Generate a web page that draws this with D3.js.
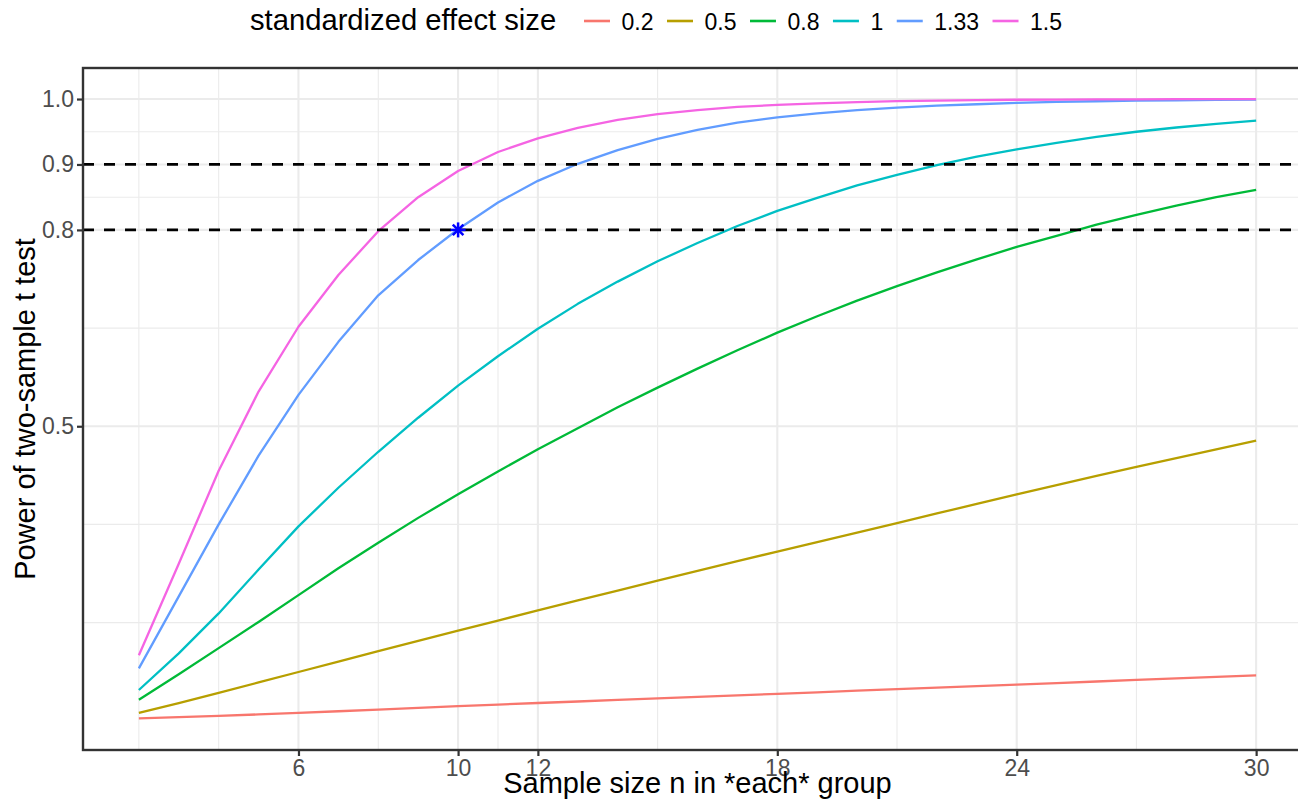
<!DOCTYPE html>
<html>
<head>
<meta charset="utf-8">
<script src="https://cdn.jsdelivr.net/npm/d3@7"></script>
<style>
  body { margin: 0; background: #fff; }
  svg text { font-family: "Liberation Sans", Arial, sans-serif; }
</style>
</head>
<body>
<svg id="chart" width="1298" height="802"></svg>
<script>
// sample size per group
const sampleSizes = [2, 3, 4, 5, 6, 7, 8, 9, 10, 11, 12, 13, 14, 15, 16, 17, 18, 19, 20,
  21, 22, 23, 24, 25, 26, 27, 28, 29, 30];

// effect sizes (legend) and their colours
const effectSizes = ["0.2", "0.5", "0.8", "1", "1.33", "1.5"];
const effectColors = ["#F8766D", "#B79F00", "#00BA38", "#00BFC4", "#619CFF", "#F564E3"];

// power, one array per effect size
const power02 = [0.0535, 0.0555, 0.0575, 0.0597, 0.0620, 0.0645, 0.0670, 0.0697, 0.0724,
  0.0747, 0.0771, 0.0794, 0.0818, 0.0841, 0.0865, 0.0888, 0.0912, 0.0935, 0.0959, 0.0982,
  0.1006, 0.1029, 0.1053, 0.1076, 0.1100, 0.1123, 0.1147, 0.1170, 0.1194];
const power05 = [0.0620, 0.0770, 0.0925, 0.1085, 0.1245, 0.1405, 0.1563, 0.1720, 0.1876,
  0.2031, 0.2185, 0.2338, 0.2490, 0.2641, 0.2790, 0.2938, 0.3085, 0.3230, 0.3375, 0.3520,
  0.3667, 0.3813, 0.3960, 0.4101, 0.4241, 0.4380, 0.4514, 0.4648, 0.4780];
const power08 = [0.082, 0.121, 0.161, 0.201, 0.242, 0.283, 0.322, 0.360, 0.396, 0.431,
  0.465, 0.497, 0.529, 0.559, 0.588, 0.616, 0.643, 0.668, 0.692, 0.714, 0.735, 0.755,
  0.774, 0.791, 0.808, 0.823, 0.837, 0.850, 0.861];
const power10 = [0.097, 0.153, 0.214, 0.281, 0.347, 0.406, 0.461, 0.513, 0.562, 0.607,
  0.649, 0.687, 0.721, 0.752, 0.780, 0.806, 0.829, 0.849, 0.868, 0.884, 0.899, 0.912,
  0.923, 0.933, 0.942, 0.950, 0.9565, 0.962, 0.967];
const power133 = [0.130, 0.240, 0.350, 0.455, 0.548, 0.629, 0.700, 0.754, 0.801, 0.842,
  0.875, 0.901, 0.922, 0.939, 0.953, 0.964, 0.972, 0.978, 0.983, 0.987, 0.990, 0.992,
  0.994, 0.9955, 0.9966, 0.9975, 0.998, 0.9986, 0.999];
const power15 = [0.150, 0.290, 0.432, 0.553, 0.652, 0.731, 0.798, 0.850, 0.890, 0.919,
  0.940, 0.956, 0.968, 0.977, 0.983, 0.988, 0.991, 0.9935, 0.9953, 0.9967, 0.9977, 0.9984,
  0.9989, 0.9992, 0.9995, 0.9996, 0.9997, 0.9998, 0.9999];
const powerSeries = [power02, power05, power08, power10, power133, power15];

// axis breaks
const xBreaks = [6, 10, 12, 18, 24, 30];
const xMinorBreaks = [2, 4, 8, 11, 15, 21, 27];
const yBreaks = [0.5, 0.8, 0.9, 1.0];
const yMinorBreaks = [0.2, 0.35, 0.65, 0.85, 0.95];
const yBreakLabels = ["0.5", "0.8", "0.9", "1.0"];

// reference lines and highlighted point
const targetPower = [0.8, 0.9];
const markedPoint = { n: 10, power: 0.8 };

const svg = d3.select("#chart");

// panel box (runs a bit past the right edge, like the original)
const panel = { left: 83, top: 68, right: 1312, bottom: 750 };

const x = d3.scaleLinear().domain([0.6, 31.4]).range([panel.left, panel.right]);
const y = d3.scaleLinear().domain([0.0053, 1.0474]).range([panel.bottom, panel.top]);

const g = svg.append("g");

// grid lines
const gridColor = "#ebebeb";
g.selectAll(".xminor").data(xMinorBreaks).join("line")
  .attr("x1", d => x(d)).attr("x2", d => x(d))
  .attr("y1", panel.top).attr("y2", panel.bottom)
  .attr("stroke", gridColor).attr("stroke-width", 1.1);
g.selectAll(".yminor").data(yMinorBreaks).join("line")
  .attr("x1", panel.left).attr("x2", panel.right)
  .attr("y1", d => y(d)).attr("y2", d => y(d))
  .attr("stroke", gridColor).attr("stroke-width", 1.1);
g.selectAll(".xmajor").data(xBreaks).join("line")
  .attr("x1", d => x(d)).attr("x2", d => x(d))
  .attr("y1", panel.top).attr("y2", panel.bottom)
  .attr("stroke", gridColor).attr("stroke-width", 2.1);
g.selectAll(".ymajor").data(yBreaks).join("line")
  .attr("x1", panel.left).attr("x2", panel.right)
  .attr("y1", d => y(d)).attr("y2", d => y(d))
  .attr("stroke", gridColor).attr("stroke-width", 2.1);

// power curves
const line = d3.line()
  .x((d, i) => x(sampleSizes[i]))
  .y(d => y(d));

g.selectAll(".curve").data(powerSeries).join("path")
  .attr("d", d => line(d))
  .attr("fill", "none")
  .attr("stroke", (d, i) => effectColors[i])
  .attr("stroke-width", 2.3)
  .attr("stroke-linejoin", "round");

// dashed target lines
g.selectAll(".target").data(targetPower).join("line")
  .attr("x1", panel.left).attr("x2", panel.right)
  .attr("y1", d => y(d)).attr("y2", d => y(d))
  .attr("stroke", "#000").attr("stroke-width", 2.7)
  .attr("stroke-dasharray", "11,10");

// asterisk at the chosen design
const star = g.append("g")
  .attr("transform", `translate(${x(markedPoint.n)},${y(markedPoint.power)})`)
  .attr("stroke", "#0000ff").attr("stroke-width", 2.5).attr("stroke-linecap", "butt");
const r = 7.5;
const rd = r * Math.SQRT1_2;
star.append("line").attr("x1", 0).attr("x2", 0).attr("y1", -r).attr("y2", r);
star.append("line").attr("x1", -r).attr("x2", r).attr("y1", 0).attr("y2", 0);
star.append("line").attr("x1", -rd).attr("x2", rd).attr("y1", -rd).attr("y2", rd);
star.append("line").attr("x1", -rd).attr("x2", rd).attr("y1", rd).attr("y2", -rd);

// panel border
g.append("rect")
  .attr("x", panel.left).attr("y", panel.top)
  .attr("width", panel.right - panel.left).attr("height", panel.bottom - panel.top)
  .attr("fill", "none").attr("stroke", "#333333").attr("stroke-width", 2.4);

// axes
const tickColor = "#333333";
const labelColor = "#4d4d4d";

const xAxis = svg.append("g")
  .attr("transform", `translate(0,${panel.bottom})`)
  .call(d3.axisBottom(x).tickValues(xBreaks).tickSize(6).tickSizeOuter(0).tickPadding(4));
xAxis.select(".domain").remove();
xAxis.selectAll(".tick line").attr("stroke", tickColor).attr("stroke-width", 2.2);
xAxis.selectAll(".tick text")
  .attr("fill", labelColor).attr("font-size", 23)
  .attr("font-family", "Liberation Sans, Arial, sans-serif");

const yAxis = svg.append("g")
  .attr("transform", `translate(${panel.left},0)`)
  .call(d3.axisLeft(y).tickValues(yBreaks).tickFormat((d, i) => yBreakLabels[i])
    .tickSize(6).tickSizeOuter(0).tickPadding(3));
yAxis.select(".domain").remove();
yAxis.selectAll(".tick line").attr("stroke", tickColor).attr("stroke-width", 2.2);
yAxis.selectAll(".tick text")
  .attr("fill", labelColor).attr("font-size", 23)
  .attr("font-family", "Liberation Sans, Arial, sans-serif");

// axis titles
svg.append("text")
  .attr("x", (panel.left + panel.right) / 2).attr("y", 793)
  .attr("text-anchor", "middle").attr("font-size", 29).attr("fill", "#000")
  .text("Sample size n in *each* group");

svg.append("text")
  .attr("transform", `translate(35,${(panel.top + panel.bottom) / 2}) rotate(-90)`)
  .attr("text-anchor", "middle").attr("font-size", 29).attr("fill", "#000")
  .text("Power of two-sample t test");

// legend on top
const legend = svg.append("g");
legend.append("text")
  .attr("x", 250).attr("y", 30)
  .attr("font-size", 29.2).attr("fill", "#000")
  .text("standardized effect size");

let keyX = 584;
effectSizes.forEach((label, i) => {
  legend.append("line")
    .attr("x1", keyX).attr("x2", keyX + 26)
    .attr("y1", 21).attr("y2", 21)
    .attr("stroke", effectColors[i]).attr("stroke-width", 2.6);
  const t = legend.append("text")
    .attr("x", keyX + 37.5).attr("y", 29.5)
    .attr("font-size", 23).attr("fill", "#000")
    .text(label);
  keyX += 37.5 + t.node().getComputedTextLength() + 13.5;
});
</script>
</body>
</html>
